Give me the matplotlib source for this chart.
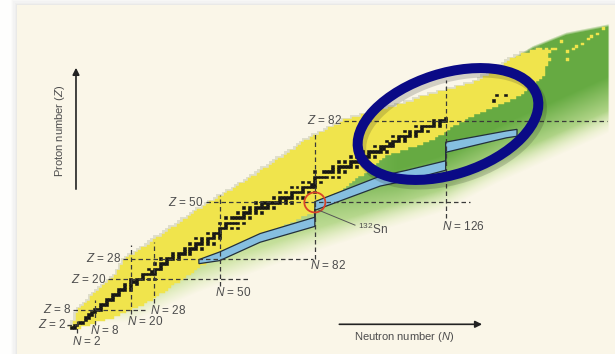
import numpy as np
import matplotlib
matplotlib.use("Agg")
import matplotlib.pyplot as plt
from matplotlib.patches import Ellipse, Rectangle, Polygon

plt.rcParams['font.family'] = ['Liberation Sans', 'DejaVu Sans']
plt.rcParams['mathtext.fontset'] = 'custom'
plt.rcParams['mathtext.rm'] = 'Liberation Sans'
plt.rcParams['mathtext.it'] = 'Liberation Sans:italic'

# known nuclei: lightest and heaviest neutron number for Z = 1 .. 110
n_min = [0, 1, 1, 2, 2, 2, 3, 3, 4, 5,
         6, 7, 7, 8, 9, 10, 11, 12, 13, 14,
         15, 16, 16, 17, 17, 18, 18, 19, 20, 22,
         23, 24, 26, 27, 28, 29, 31, 32, 33, 34,
         36, 37, 38, 40, 41, 42, 43, 45, 46, 47,
         49, 50, 52, 53, 55, 56, 57, 59, 60, 61,
         63, 64, 65, 67, 68, 69, 70, 72, 73, 74,
         76, 77, 78, 79, 81, 82, 84, 86, 87, 89,
         91, 92, 95, 98, 101, 104, 107, 110, 113, 116,
         118, 121, 124, 127, 130, 133, 136, 138, 139, 141,
         142, 143, 145, 146, 147, 148, 150, 152, 155, 157]
n_max = [3, 6, 8, 11, 14, 16, 18, 20, 22, 24,
         25, 27, 28, 29, 31, 32, 33, 34, 36, 37,
         38, 40, 41, 42, 43, 45, 46, 47, 48, 49,
         51, 53, 55, 57, 59, 61, 63, 65, 67, 69,
         71, 73, 75, 77, 79, 81, 82, 82, 82, 82,
         84, 86, 88, 90, 91, 92, 93, 94, 95, 96,
         98, 99, 100, 101, 102, 103, 104, 105, 107, 110,
         113, 116, 118, 120, 122, 123, 125, 126, 127, 128,
         130, 132, 133, 135, 137, 139, 141, 143, 145, 147,
         149, 151, 152, 153, 154, 155, 156, 157, 158, 159,
         159, 159, 159, 160, 160, 160, 160, 160, 161, 158]

# isolated superheavy nuclei (N, Z)
sh_n = [160, 162, 161, 163, 165, 167, 167, 169, 170, 172, 174, 175, 177, 179]
sh_z = [110, 110, 106, 110, 113, 109, 106, 110, 111, 112, 114, 115, 116, 118]

# stable (and long-lived) nuclei: neutron numbers per Z
stable = {
    1: [0, 1], 2: [1, 2], 3: [3, 4], 4: [5], 5: [5, 6], 6: [6, 7], 7: [7, 8],
    8: [8, 9, 10], 9: [10], 10: [10, 11, 12], 11: [12], 12: [12, 13, 14],
    13: [14], 14: [14, 15, 16], 15: [16], 16: [16, 17, 18, 20], 17: [18, 20],
    18: [18, 20, 22], 19: [20, 21, 22], 20: [20, 22, 23, 24, 26, 28], 21: [24],
    22: [24, 25, 26, 27, 28], 23: [27, 28], 24: [26, 28, 29, 30], 25: [30],
    26: [28, 30, 31, 32], 27: [32], 28: [30, 32, 33, 34, 36], 29: [34, 36],
    30: [34, 36, 37, 38, 40], 31: [38, 40], 32: [38, 40, 41, 42, 44], 33: [42],
    34: [40, 42, 43, 44, 46, 48], 35: [44, 46], 36: [42, 44, 46, 47, 48, 50],
    37: [48, 50], 38: [46, 48, 49, 50], 39: [50], 40: [50, 51, 52, 54, 56],
    41: [52], 42: [50, 52, 53, 54, 55, 56, 58], 44: [52, 54, 55, 56, 57, 58, 60],
    45: [58], 46: [56, 58, 59, 60, 62, 64], 47: [60, 62],
    48: [58, 60, 62, 63, 64, 65, 66, 68], 49: [64, 66],
    50: [62, 64, 65, 66, 67, 68, 69, 70, 72, 74], 51: [70, 72],
    52: [68, 70, 71, 72, 73, 74, 76, 78], 53: [74],
    54: [70, 72, 74, 75, 76, 77, 78, 80, 82], 55: [78],
    56: [74, 76, 78, 79, 80, 81, 82], 57: [81, 82], 58: [78, 80, 82, 84],
    59: [82], 60: [82, 83, 84, 85, 86, 88, 90], 62: [82, 85, 86, 87, 88, 90, 92],
    63: [88, 90], 64: [88, 90, 91, 92, 93, 94, 96], 65: [94],
    66: [90, 92, 94, 95, 96, 97, 98], 67: [98], 68: [94, 96, 98, 99, 100, 102],
    69: [100], 70: [98, 100, 101, 102, 103, 104, 106], 71: [104, 105],
    72: [102, 104, 105, 106, 107, 108], 73: [107, 108],
    74: [106, 108, 109, 110, 112], 75: [110, 112],
    76: [108, 110, 111, 112, 113, 114, 116], 77: [114, 116],
    78: [112, 114, 116, 117, 118, 120], 79: [118],
    80: [116, 118, 119, 120, 121, 122, 124], 81: [122, 124],
    82: [122, 124, 125, 126], 83: [126], 90: [142], 92: [143, 146],
}

# r-process path (upper and lower edge)
path_n = [43, 50, 63.6, 82, 82, 104, 113, 126, 126, 146.5, 150]
path_z_up = [27.6, 30.6, 37.8, 44.2, 50.3, 60.3, 62.6, 66.3, 73.6, 78.0, 78.6]
path_z_lo = [26.0, 27.2, 34.4, 40.6, 46.9, 56.4, 58.6, 62.6, 69.6, 75.3, 75.9]

# predicted region (green): lower and upper edge
drip_n = [20, 43, 60, 77, 104, 124, 144, 165, 182]
drip_z = [5, 17, 24, 31, 41, 48, 60, 71, 80]
top_n = [0, 60, 100, 137.6, 150, 155.4, 166.7, 178, 181]
top_z = [0, 45, 75, 96.6, 107, 110.9, 116.2, 118.8, 119.5]

# magic numbers and dashed line extents
z_magic = [2, 8, 20, 28, 50, 82]
z_line_n0 = [-1.5, 0.7, 12.4, 17.5, 45.4, 91.8]
z_line_n1 = [1.5, 24.9, 59.5, 81.4, 134.2, 180.3]
n_magic = [2, 8, 20, 28, 50, 82, 126]
n_line_z0 = [-1.1, 2.0, 6.3, 10.6, 17.3, 27.8, 43.9]
n_line_z1 = [3.9, 11.8, 33.3, 34.5, 52.9, 77.2, 97.9]
n_label_pos = [(0.2, -4.3), (6.4, 0.0), (18.7, 3.3), (26.6, 7.5),
               (48.4, 14.6), (80.4, 25.1), (124.7, 40.5)]
z_label_n = [-1.5, 0.2, 12.0, 17.0, 44.4, 91.1]

yellow = '#f0e44c'
label_col = '#4d4d4d'

fig = plt.figure(figsize=(6.15, 3.54), dpi=100)
fig.patch.set_facecolor('#fefefd')
for i, al in enumerate([0.035, 0.03, 0.025, 0.02, 0.015]):
    d = (i + 1) * 1.2
    fig.add_artist(Rectangle(((17 - d) / 100, 0), 6.2, (349 + d) / 100, color='#606060',
                             alpha=al, lw=0, transform=fig.dpi_scale_trans, zorder=-11))
fig.add_artist(Rectangle((0.17, 0), 6.0, 3.49, color='#faf6e8', lw=0,
                         transform=fig.dpi_scale_trans, zorder=-10))

ax = fig.add_axes([0, 0, 1, 1])
x0, x1 = -23.90, 182.96
y0, y1 = -9.36, 129.25
ax.set_xlim(x0, x1)
ax.set_ylim(y0, y1)
ax.axis('off')
ax.patch.set_visible(False)

# green predicted region
NN, ZZ = np.meshgrid(np.linspace(x0, x1, 615), np.linspace(y0, y1, 354))
zd = np.interp(NN, drip_n, drip_z)
zt = np.interp(NN, top_n, top_z)
alpha = (np.clip((ZZ - zd) / 9 + 0.25, 0, 1) * np.clip((zt - ZZ) / 1.2 + 0.5, 0, 1)
         * np.clip((181 - NN) / 0.6 + 0.5, 0, 1))
t = (np.clip((ZZ - zd) / 20, 0, 1) * np.clip((NN - 40) / 70, 0.25, 1))[..., None]
light = np.array([0.83, 0.91, 0.66])
dark = np.array([0.40, 0.67, 0.26])
rgba = np.dstack([light * (1 - t) + dark * t, alpha])
ax.imshow(rgba, extent=[x0, x1, y0, y1], origin='lower', aspect='auto', zorder=1,
          interpolation='bilinear')

# known nuclei
z = np.arange(1, len(n_min) + 1)
nmin = np.array(n_min)
nmax = np.array(n_max)
ax.barh(z + 0.6, nmax - nmin + 1, left=nmin - 1.3, height=1.0, color='#a3a98a',
        alpha=0.3, lw=0, zorder=1.5)
ax.barh(z, nmax - nmin + 1, left=nmin - 0.5, height=1.0, color=yellow,
        edgecolor=yellow, lw=0.3, zorder=2)
ax.barh(sh_z, 1, left=np.array(sh_n) - 0.5, height=1.0, color=yellow,
        edgecolor=yellow, lw=0.3, zorder=2)

# stable nuclei
sz = [k for k, v in stable.items() for _ in v]
sn = [n for v in stable.values() for n in v]
ax.barh(sz, 1, left=np.array(sn) - 0.5, height=1.0, color='#151515',
        edgecolor='#151515', lw=0.4, zorder=3)

# r-process path
poly = list(zip(path_n, path_z_up)) + list(zip(path_n[::-1], path_z_lo[::-1]))
ax.add_patch(Polygon(poly, closed=True, fc='#86bfe0', ec='#22303c', lw=0.9, zorder=4))

# dashed magic-number lines
for zm, a0, a1 in zip(z_magic, z_line_n0, z_line_n1):
    ax.plot([a0, a1], [zm, zm], color='#3a3a3a', lw=0.9, dashes=(3.6, 2.4), zorder=5)
for nm, b0, b1 in zip(n_magic, n_line_z0, n_line_z1):
    ax.plot([nm, nm], [b0, b1], color='#3a3a3a', lw=0.9, dashes=(3.6, 2.4), zorder=5)

for zm, xn in zip(z_magic, z_label_n):
    ax.text(xn, zm, rf'$Z$ = {zm}', ha='right', va='center', fontsize=8.5,
            color=label_col, zorder=8)
for nm, (xn, yz) in zip(n_magic, n_label_pos):
    ax.text(xn, yz, rf'$N$ = {nm}', ha='left', va='center', fontsize=8.5,
            color=label_col, zorder=8)

# 132Sn
ax.add_patch(Ellipse((82, 50), 21 / 2.973, 20 / 2.554, fill=False, ec='#d8452a',
                     lw=1.3, zorder=6))
ax.plot([83.2, 95.5], [47.0, 41.1], color='#555555', lw=0.7, zorder=6)
ax.text(96.5, 39.4, r'$^{\mathrm{132}}$Sn', ha='left', va='center', fontsize=8.5,
        color=label_col, zorder=8)

# highlight ellipse
ax.add_patch(Ellipse((4.51, 2.26), 1.87, 1.01, angle=17.8, fill=False, ec='#202020',
                     lw=8, alpha=0.18, transform=fig.dpi_scale_trans, zorder=6.5))
ax.add_patch(Ellipse((4.48, 2.30), 1.87, 1.01, angle=17.8, fill=False, ec='#0a0a86',
                     lw=7.2, transform=fig.dpi_scale_trans, zorder=7))

# axis arrows
ax.annotate('', xy=(1.66, 103.8), xytext=(1.66, 54.1),
            arrowprops=dict(arrowstyle='-|>', color='#222222', lw=1.2, mutation_scale=10),
            zorder=8)
ax.text(-3.7, 78.0, r'Proton number ($Z$)', rotation=90, ha='center', va='center',
        fontsize=8, color=label_col, zorder=8)
ax.annotate('', xy=(139.2, 2.27), xytext=(89.3, 2.27),
            arrowprops=dict(arrowstyle='-|>', color='#222222', lw=1.2, mutation_scale=10),
            zorder=8)
ax.text(112.0, -2.6, r'Neutron number ($N$)', ha='center', va='center',
        fontsize=8, color=label_col, zorder=8)

fig.savefig('out.png', dpi=100, facecolor=fig.get_facecolor())
